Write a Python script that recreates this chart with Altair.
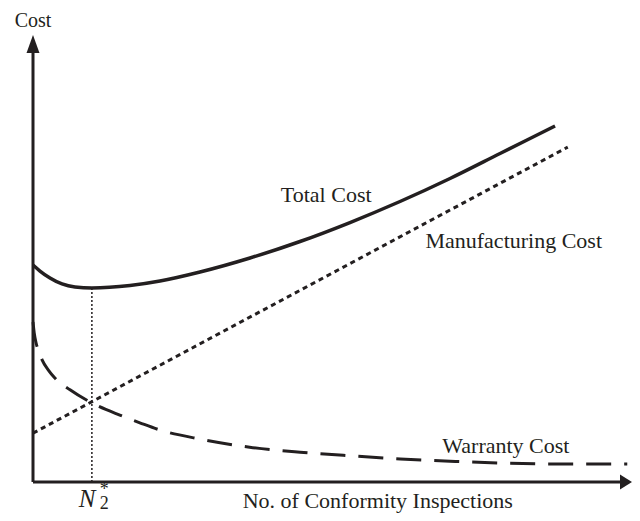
import altair as alt
import pandas as pd

INK = "#231f20"
FONT = "Liberation Serif"

# Total cost curve (conceptual units: inspections 0-100, cost 0-100)
total_x = [0, 1.15, 2.8, 4.78, 6.92, 9.72, 15.98, 20.92, 27.51, 35.75, 43.99, 52.22, 60.46, 68.7, 76.94, 86.0]
total_y = [48.0, 46.68, 45.13, 43.81, 43.14, 42.92, 43.47, 44.47, 46.46, 49.56, 53.21, 57.41, 62.06, 67.15, 72.68, 78.76]

# Manufacturing cost (straight line)
manuf_x = [0, 88.1]
manuf_y = [10.8, 74.1]

# Warranty cost (decaying)
warr_x = [0, 0.2, 0.5, 1.0, 1.5, 2.5, 3.6, 6.1, 9.7, 14.3, 17.6, 20.9, 27.5, 35.7, 44.0, 52.2, 60.5, 68.7, 76.9, 86.8, 97.9]
warr_y = [35.4, 33.0, 30.8, 28.8, 27.0, 24.8, 23.0, 20.4, 17.5, 14.8, 13.1, 11.5, 9.5, 7.7, 6.6, 5.8, 5.1, 4.6, 4.2, 4.0, 4.0]

# Optimum number of inspections
n_opt = 9.7
n_opt_cost = 42.9

# Labels (alphabetic baseline positions)
label_text = ["Total Cost", "Manufacturing Cost", "Warranty Cost", "No. of Conformity Inspections"]
label_x = [48.3, 79.2, 77.9, 56.8]
label_y = [61.95, 51.77, 6.42, -5.75]

X_MAX = 98.68
xs = alt.Scale(domain=[0, X_MAX], nice=False, zero=False)
ys = alt.Scale(domain=[0, 100], nice=False, zero=False)


def X(f="x"):
    return alt.X(f"{f}:Q", scale=xs, axis=None)


def Y(f="y"):
    return alt.Y(f"{f}:Q", scale=ys, axis=None)


total = alt.Chart(pd.DataFrame({"x": total_x, "y": total_y})).mark_line(
    color=INK, strokeWidth=3.5, interpolate="monotone"
).encode(x=X(), y=Y(), order="x:Q")

manuf = alt.Chart(pd.DataFrame({"x": manuf_x, "y": manuf_y})).mark_line(
    color=INK, strokeWidth=3, strokeDash=[5, 4]
).encode(x=X(), y=Y())

warr = alt.Chart(pd.DataFrame({"x": warr_x, "y": warr_y})).mark_line(
    color=INK, strokeWidth=3, strokeDash=[25, 13], interpolate="monotone"
).encode(x=X(), y=Y(), order="x:Q")

vline = alt.Chart(pd.DataFrame({"x": [n_opt], "y": [0], "y2": [n_opt_cost]})).mark_rule(
    color=INK, strokeWidth=1.5, strokeDash=[2, 2]
).encode(x=X(), y=Y(), y2="y2:Q")

axes_df = pd.DataFrame({"x": [0, 0], "y": [0, 0], "x2": [0, 97.7], "y2": [96, 0]})
axes = alt.Chart(axes_df).mark_rule(color=INK, strokeWidth=3).encode(
    x=X(), y=Y(), x2="x2:Q", y2="y2:Q"
)

up_arrow = alt.Chart(pd.DataFrame({"x": [0], "y": [96.9]})).mark_point(
    shape="M0,-1L0.72,1L-0.72,1Z", filled=True, size=324, color=INK, opacity=1, strokeWidth=0
).encode(x=X(), y=Y())

right_arrow = alt.Chart(pd.DataFrame({"x": [97.69], "y": [0]})).mark_point(
    shape="M1,0L-1,-1.25L-1,1.25Z", filled=True, size=144, color=INK, opacity=1, strokeWidth=0
).encode(x=X(), y=Y())

cost_title = alt.Chart(pd.DataFrame({"x": [0], "y": [100.66], "t": ["Cost"]})).mark_text(
    font=FONT, fontSize=20, color=INK, align="center", baseline="alphabetic"
).encode(x=X(), y=Y(), text="t:N")

labels = alt.Chart(pd.DataFrame({"x": label_x, "y": label_y, "t": label_text})).mark_text(
    font=FONT, fontSize=22, color=INK, align="center", baseline="alphabetic"
).encode(x=X(), y=Y(), text="t:N")

n_main = alt.Chart(pd.DataFrame({"x": [8.9], "y": [-5.53], "t": ["N"]})).mark_text(
    font=FONT, fontSize=25, fontStyle="italic", color=INK, align="center", baseline="alphabetic"
).encode(x=X(), y=Y(), text="t:N")

# superscript star and subscript 2 stacked in one text block
n_scripts = alt.Chart(pd.DataFrame({"x": [11.75], "y": [-2.88], "t": ["*\n2"]})).mark_text(
    font=FONT, fontSize=18, color=INK, align="center", baseline="alphabetic",
    lineBreak="\n", lineHeight=14
).encode(x=X(), y=Y(), text="t:N")

chart = alt.layer(
    vline, manuf, warr, total, axes, up_arrow, right_arrow, cost_title, labels, n_main, n_scripts
).properties(
    width=599,
    height=452,
    autosize=alt.AutoSizeParams(type="none"),
    padding={"left": 25, "top": 22, "right": 0, "bottom": 31},
    background="white",
).configure_view(stroke=None)

chart.save("out.html", embed_options={"renderer": "svg", "actions": False})
